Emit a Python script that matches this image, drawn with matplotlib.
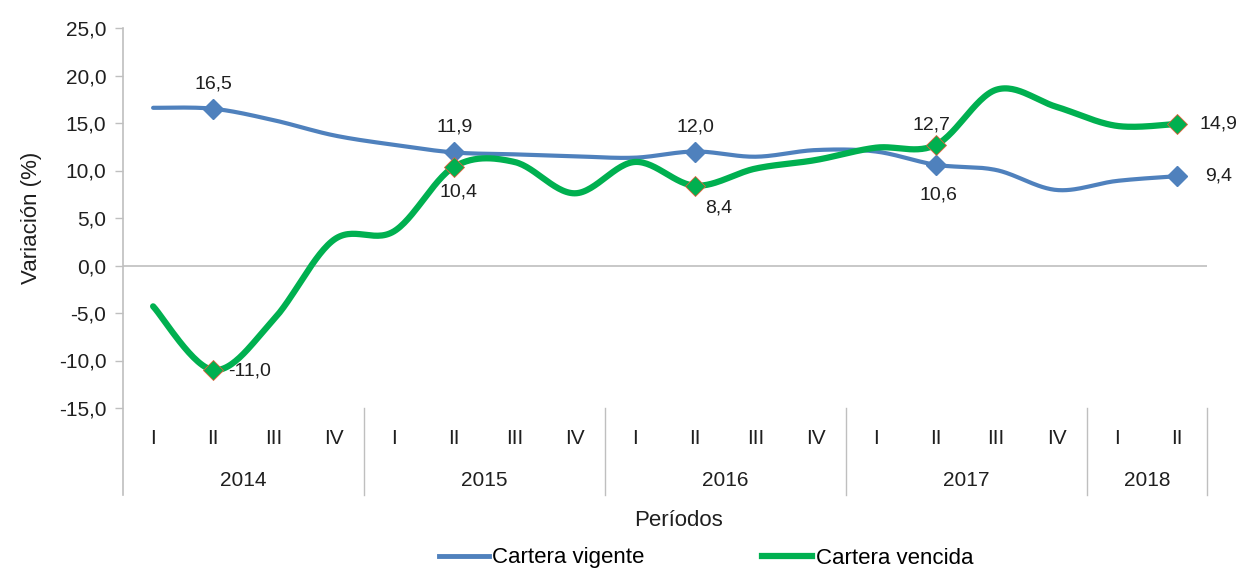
import numpy as np
import matplotlib
matplotlib.use("Agg")
import matplotlib.pyplot as plt
from matplotlib.lines import Line2D

plt.rcParams['font.family'] = ['Liberation Sans', 'DejaVu Sans']

quarters = ["I", "II", "III", "IV"] * 4 + ["I", "II"]
years = ["2014", "2015", "2016", "2017", "2018"]
year_counts = [4, 4, 4, 4, 2]
vigente = [16.6, 16.5, 15.3, 13.7, 12.7, 11.9, 11.7, 11.5, 11.35, 12.0,
           11.45, 12.15, 12.0, 10.6, 10.05, 7.95, 8.9, 9.4]
vencida = [-4.3, -11.0, -5.7, 2.7, 3.6, 10.4, 10.9, 7.6, 10.9, 8.4,
           10.2, 11.1, 12.4, 12.7, 18.5, 16.7, 14.7, 14.9]
labeled_idx = [1, 5, 9, 13, 17]
yticks = [-15, -10, -5, 0, 5, 10, 15, 20, 25]

BLUE = "#4F81BD"
GREEN = "#00B050"
TXT = "#1F1F1F"


def smooth(x, y, n=30):
    x = np.asarray(x, float)
    y = np.asarray(y, float)
    P = np.column_stack([x, y])
    out = []
    m = len(P)
    for i in range(m - 1):
        p0 = P[i - 1] if i > 0 else P[i]
        p1 = P[i]
        p2 = P[i + 1]
        p3 = P[i + 2] if i + 2 < m else P[i + 1]
        c1 = p1 + (p2 - p0) / 6.0
        c2 = p2 - (p3 - p1) / 6.0
        t = np.linspace(0, 1, n, endpoint=(i == m - 2))[:, None]
        seg = ((1 - t) ** 3) * p1 + 3 * ((1 - t) ** 2) * t * c1 + 3 * (1 - t) * t ** 2 * c2 + t ** 3 * p2
        out.append(seg)
    out = np.vstack(out)
    return out[:, 0], out[:, 1]


W, H = 1238, 570
fig = plt.figure(figsize=(W / 100, H / 100), dpi=100)
ax = fig.add_axes([123 / W, (H - 408) / H, (1207 - 123) / W, 380 / H])

x = np.arange(len(quarters))
ax.set_xlim(-0.5, len(quarters) - 0.5)
ax.set_ylim(-15, 25)

ax.axhline(0, color="#BFBFBF", lw=1.2, zorder=1)

sx, sy = smooth(x, vigente)
ax.plot(sx, sy, color=BLUE, lw=3.0, solid_capstyle="round", zorder=3)
sx2, sy2 = smooth(x, vencida)
ax.plot(sx2, sy2, color=GREEN, lw=4.5, solid_capstyle="round", zorder=4)

ax.plot(x[labeled_idx], np.array(vigente)[labeled_idx], ls="none", marker="D", ms=10,
        mfc=BLUE, mec=BLUE, zorder=5)
ax.plot(x[labeled_idx], np.array(vencida)[labeled_idx], ls="none", marker="D", ms=10,
        mfc=GREEN, mec="#E0603A", mew=0.6, zorder=6)


def fmt(v):
    return f"{v:.1f}".replace(".", ",")


vig_off = {1: (0, 18), 5: (0, 18), 9: (0, 18), 13: (2, -22), 17: (30, 0)}
ven_off = {1: (26, -1), 5: (3, -18), 9: (17, -16), 13: (-3, 14), 17: (30, 0)}
for i in labeled_idx:
    ax.annotate(fmt(vigente[i]), (x[i], vigente[i]), xytext=vig_off[i], textcoords="offset points",
                ha="center", va="center", fontsize=14, color=TXT, zorder=7)
    ax.annotate(fmt(vencida[i]), (x[i], vencida[i]), xytext=ven_off[i], textcoords="offset points",
                ha="center", va="center", fontsize=14, color=TXT, zorder=7)

for s in ax.spines.values():
    s.set_visible(False)
ax.set_xticks([])
ax.set_yticks(yticks)
ax.set_yticklabels([fmt(v) for v in yticks], fontsize=15, color=TXT)
ax.tick_params(axis="y", direction="out", length=6, width=1, color="#BFBFBF", pad=6)

sep_bottom = -(495 - 408) / 380
ax.add_line(Line2D([-0.5, -0.5], [1.0, sep_bottom], transform=ax.get_xaxis_transform(),
                   color="#BFBFBF", lw=1.2, clip_on=False))
bounds = np.cumsum([0] + year_counts) - 0.5
for b in bounds[1:]:
    ax.add_line(Line2D([b, b], [0, sep_bottom], transform=ax.get_xaxis_transform(),
                       color="#BFBFBF", lw=1.0, clip_on=False))

tr = ax.get_xaxis_transform()
for i, q in enumerate(quarters):
    ax.text(x[i], -(438 - 408) / 380, q, transform=tr, ha="center", va="center",
            fontsize=15, color=TXT)
for j, yr in enumerate(years):
    c = (bounds[j] + bounds[j + 1]) / 2
    ax.text(c, -(480 - 408) / 380, yr, transform=tr, ha="center", va="center",
            fontsize=15, color=TXT)

fig.text(679 / W, 1 - 521 / H, "Períodos", ha="center", va="center", fontsize=16, color=TXT)
fig.text(31 / W, 1 - 218 / H, "Variación (%)", ha="center", va="center", rotation=90,
         fontsize=16, color=TXT)

handles = [Line2D([], [], color=BLUE, lw=3.5), Line2D([], [], color=GREEN, lw=4.5)]
fig.legend(handles, ["Cartera vigente", "Cartera vencida"], loc="center",
           bbox_to_anchor=(706 / W, 1 - 558 / H), ncol=2, frameon=False, fontsize=16,
           handlelength=2.25, handletextpad=0.15, columnspacing=5.3)

fig.savefig("out.png", dpi=100, facecolor="white")
